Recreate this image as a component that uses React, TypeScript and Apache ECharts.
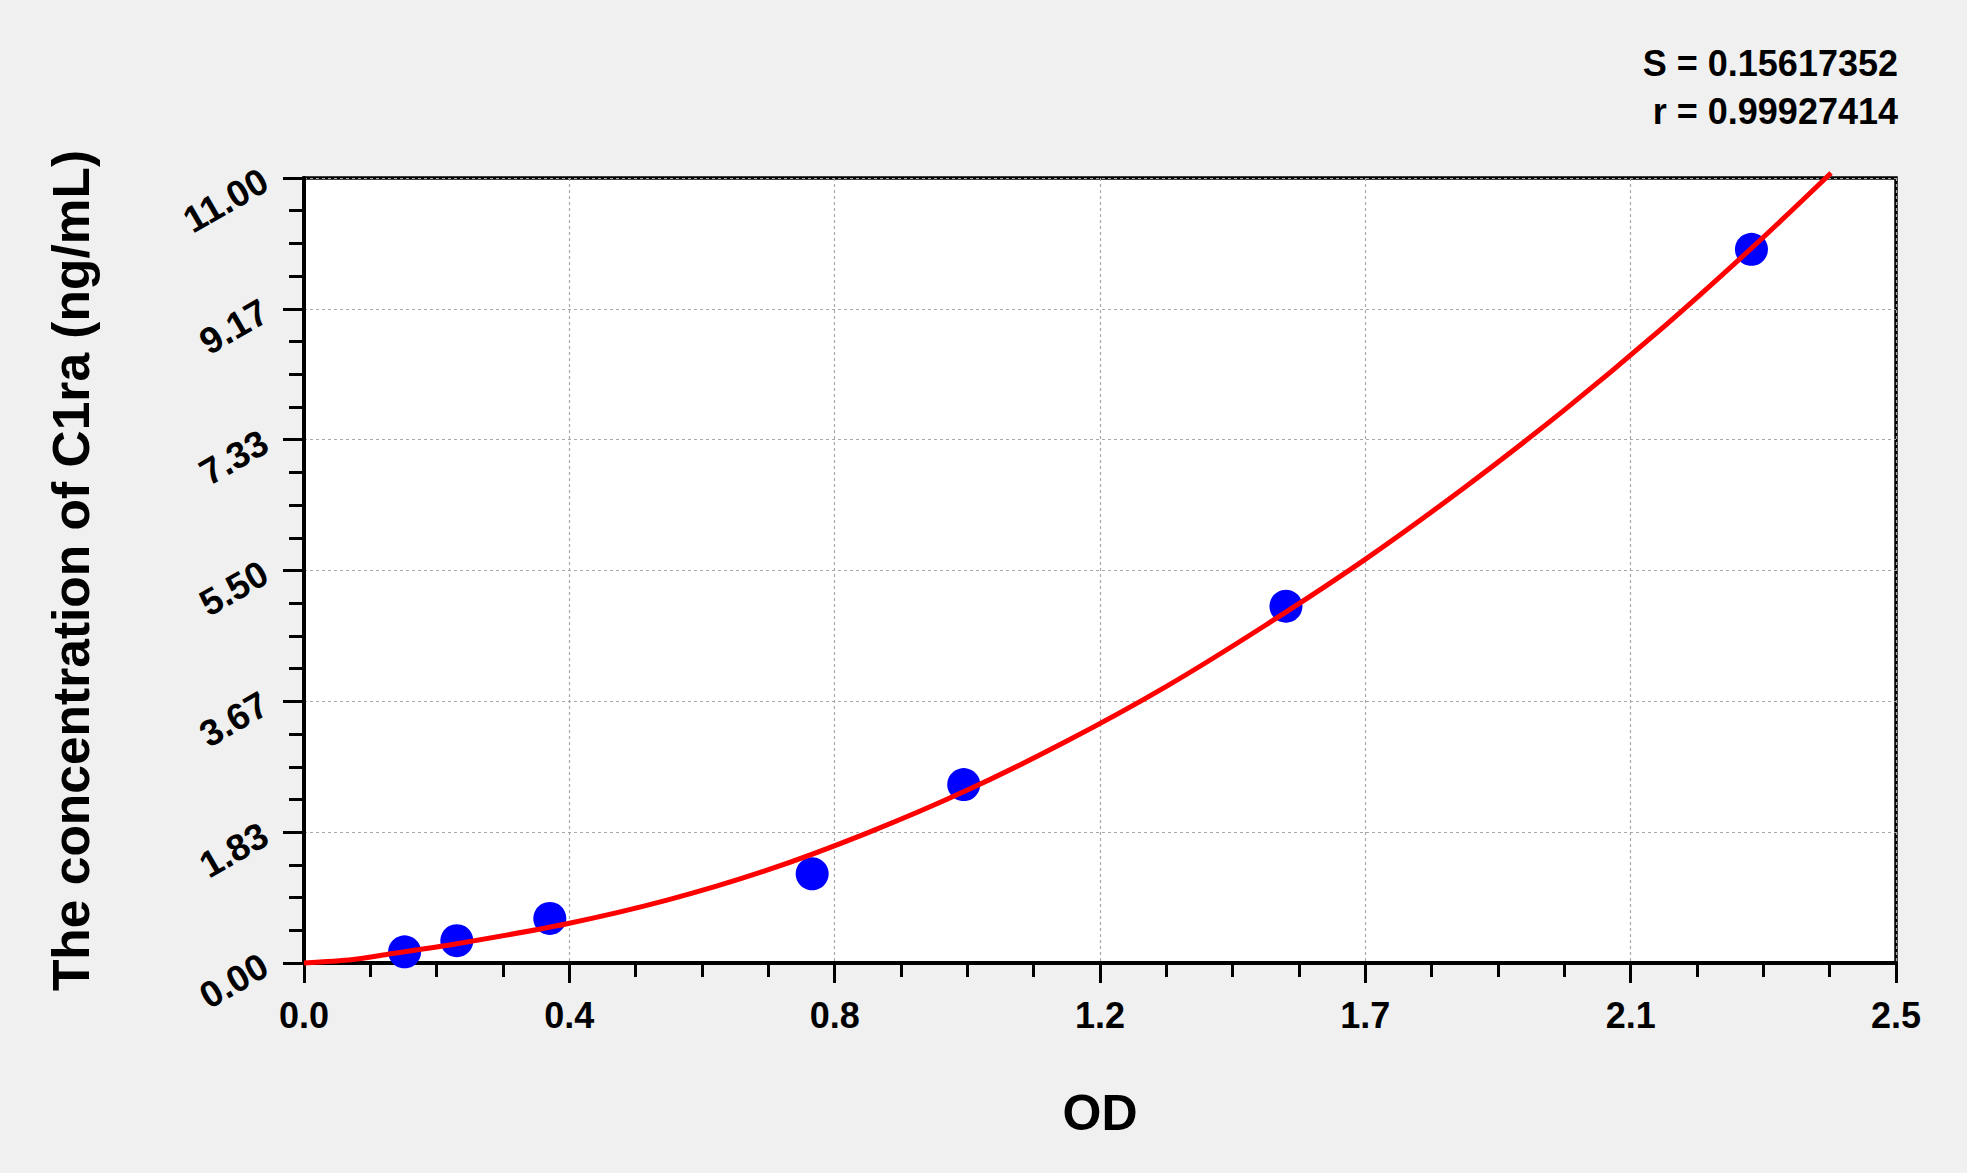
import { useEffect, useRef } from "react";
import * as echarts from "echarts";

// standards (OD vs concentration)
const stdOd = [0.158, 0.24, 0.386, 0.798, 1.036, 1.542, 2.273];
const stdConc = [0.156, 0.313, 0.625, 1.25, 2.5, 5, 10];

// fitted curve
const fitOd = [
  0, 0.077, 0.13, 0.24, 0.413, 0.57, 0.727, 0.884, 1.041, 1.198, 1.355,
  1.511, 1.667, 1.822, 1.978, 2.127, 2.276, 2.398,
];
const fitConc = [
  0, 0.05, 0.12, 0.27, 0.55, 0.88, 1.3, 1.82, 2.42, 3.11, 3.88, 4.74, 5.66,
  6.66, 7.74, 8.85, 10.04, 11.07,
];

const xTickLabels = ["0.0", "0.4", "0.8", "1.2", "1.7", "2.1", "2.5"];
const yTickLabels = ["0.00", "1.83", "3.67", "5.50", "7.33", "9.17", "11.00"];
const statLines = ["S = 0.15617352", "r = 0.99927414"];

const X_MAX = 2.5;
const Y_MAX = 11;
const FONT = '"Liberation Sans", Arial, Helvetica, sans-serif';

export default function App() {
  const chartRef = useRef<HTMLDivElement>(null);

  useEffect(() => {
    if (!chartRef.current) return;
    const chart = echarts.init(chartRef.current, null, { renderer: "svg" });

    const xStep = X_MAX / (xTickLabels.length - 1);
    const yStep = Y_MAX / (yTickLabels.length - 1);

    const tickStyle = { color: "#000", width: 3 };
    const gridLine = { color: "#a8a8a8", width: 1.2, type: [3, 3] };

    chart.setOption({
      animation: false,
      backgroundColor: "#f0f0f0",
      textStyle: { fontFamily: FONT },
      grid: {
        left: 304,
        top: 178,
        width: 1592,
        height: 785,
        show: true,
        backgroundColor: "#ffffff",
        borderColor: "#000",
        borderWidth: 3.5,
        outerBoundsMode: "none",
      },
      xAxis: {
        type: "value",
        min: 0,
        max: X_MAX,
        interval: xStep,
        name: "OD",
        nameLocation: "middle",
        nameGap: 125,
        nameTextStyle: {
          fontFamily: FONT,
          fontSize: 50,
          fontWeight: "bold",
          color: "#000",
        },
        axisLine: { show: true, lineStyle: { color: "#000", width: 4 } },
        axisTick: { show: true, inside: false, length: 20, lineStyle: tickStyle },
        minorTick: { show: true, splitNumber: 4, length: 14, lineStyle: tickStyle },
        axisLabel: {
          margin: 34,
          fontFamily: FONT,
          fontSize: 36,
          fontWeight: "bold",
          color: "#000",
          formatter: (v: number) => xTickLabels[Math.round(v / xStep)] ?? "",
        },
        splitLine: { show: true, lineStyle: gridLine },
      },
      yAxis: {
        type: "value",
        min: 0,
        max: Y_MAX,
        interval: yStep,
        name: "The concentration of C1ra (ng/mL)",
        nameLocation: "middle",
        nameRotate: 90,
        nameGap: 207,
        nameTextStyle: {
          fontFamily: FONT,
          fontSize: 51.5,
          fontWeight: "bold",
          color: "#000",
        },
        axisLine: { show: true, lineStyle: { color: "#000", width: 4 } },
        axisTick: { show: true, inside: false, length: 21, lineStyle: tickStyle },
        minorTick: { show: true, splitNumber: 4, length: 15, lineStyle: tickStyle },
        axisLabel: {
          rotate: 30,
          margin: 39,
          fontFamily: FONT,
          fontSize: 37,
          fontWeight: "bold",
          color: "#000",
          formatter: (v: number) => yTickLabels[Math.round(v / yStep)] ?? "",
        },
        splitLine: { show: true, lineStyle: gridLine },
      },
      graphic: statLines.map((line, i) => ({
        type: "text",
        right: 1967 - 1898,
        top: 45 + i * 48,
        style: {
          text: line,
          fontFamily: FONT,
          fontSize: 36,
          fontWeight: "bold",
          fill: "#000",
        },
      })),
      series: [
        {
          type: "scatter",
          data: stdOd.map((x, i) => [x, stdConc[i]]),
          symbol: "circle",
          symbolSize: 33,
          itemStyle: { color: "#0000ff", opacity: 1 },
        },
        {
          type: "line",
          data: fitOd.map((x, i) => [x, fitConc[i]]),
          showSymbol: false,
          smooth: 0.3,
          clip: false,
          lineStyle: { color: "#ff0000", width: 5 },
        },
      ],
    });

    return () => {
      chart.dispose();
    };
  }, []);

  return (
    <div
      ref={chartRef}
      style={{ position: "absolute", left: 0, top: 0, width: 1967, height: 1173 }}
    />
  );
}
